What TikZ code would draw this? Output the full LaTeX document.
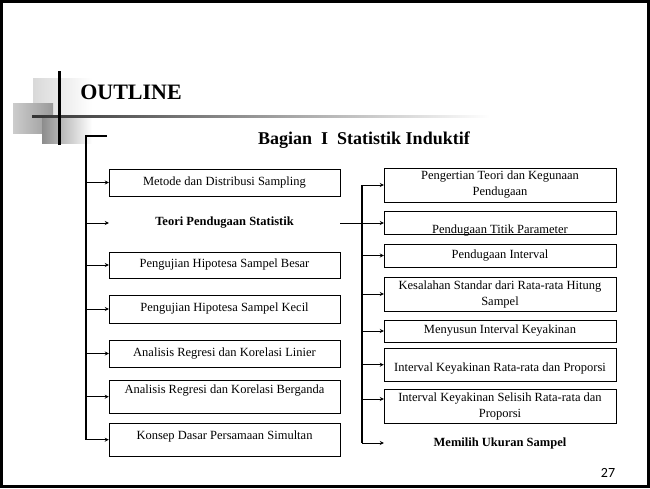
\documentclass[tikz,border=0pt]{standalone}
\usepackage{fontspec}
\setmainfont{Liberation Serif}
\newfontfamily\pagefont{Carlito}
\usetikzlibrary{arrows.meta}

\begin{document}
\begin{tikzpicture}[x=1pt,y=-1pt]
\tikzset{box/.style={draw,inner xsep=2pt,inner ysep=0pt,align=center,
           font=\fontsize{12.5}{16}\selectfont},
         lbox/.style={box,minimum width=231pt},
         rbox/.style={box,minimum width=232pt},
         head/.style={inner sep=0pt,font=\fontsize{12.5}{16}\selectfont\bfseries},
         trunk/.style={line width=1.6pt},
         feed/.style={line width=0.8pt,-{Stealth[length=4pt,width=4pt]}}}
\useasboundingbox (0,0) rectangle (650,488);
\draw[line width=3pt] (1.5,1.5) rectangle (648.5,486.5);
\shade[left color=black!15,right color=white] (33,78) rectangle (92,118);
\shade[left color=black!20,right color=black!40] (13,103) rectangle (53,133);
\shade[left color=black!45,right color=white] (42,117) rectangle (92,143);
\shade[left color=black!80,right color=white] (32,115) rectangle (490,117.5);
\draw[line width=3pt] (59,71) -- (59,145);
\node[font=\fontsize{22}{26}\selectfont\bfseries] (outline) at (131,92) {OUTLINE};
\node[font=\fontsize{18}{22}\selectfont\bfseries] (bagian) at (364,140) {Bagian\ \ I\ \ Statistik Induktif};

\node[lbox,minimum height=27pt] (metode) at (224.5,182.5) {Metode dan Distribusi Sampling};
\node[head,minimum width=231pt] (teori) at (224.5,223) {Teori Pendugaan Statistik};
\node[lbox,minimum height=26pt] (besar) at (224.5,265) {Pengujian Hipotesa Sampel Besar};
\node[lbox,minimum height=28pt] (kecil) at (224.5,309) {Pengujian Hipotesa Sampel Kecil};
\node[lbox,minimum height=27pt] (linier) at (224.5,353.5) {Analisis Regresi dan Korelasi Linier};
\node[lbox,anchor=north,text height=13pt,text depth=20pt] (berganda) at (224.5,380) {Analisis Regresi dan Korelasi Berganda};
\node[lbox,anchor=north,text height=16pt,text depth=17pt] (konsep) at (224.5,423) {Konsep Dasar Persamaan Simultan};

\node[rbox,minimum height=34pt] (pengertian) at (500,185) {Pengertian Teori dan Kegunaan\\Pendugaan};
\node[rbox,anchor=north,text height=22pt,text depth=1pt] (titik) at (500,211) {Pendugaan Titik Parameter};
\node[rbox,minimum height=23pt] (interval) at (500,255.5) {Pendugaan Interval};
\node[rbox,minimum height=34pt] (kesalahan) at (500,294) {Kesalahan Standar dari Rata-rata Hitung\\Sampel};
\node[rbox,minimum height=22pt] (menyusun) at (500,331) {Menyusun Interval Keyakinan};
\node[rbox,anchor=north,text height=23pt,text depth=10pt] (ratarata) at (500,348) {Interval Keyakinan Rata-rata dan Proporsi};
\node[rbox,minimum height=34pt] (selisih) at (500,406) {Interval Keyakinan Selisih Rata-rata dan\\Proporsi};
\node[head,minimum width=232pt] (memilih) at (500,443) {Memilih Ukuran Sampel};
\node[font=\pagefont\fontsize{14}{16}\selectfont] (page) at (608,473) {27};

\coordinate (lknee) at (86,136);
\coordinate (lcap) at (107,136);
\draw[trunk] (lcap) -- (lknee) -- (lknee |- konsep.west);
\foreach \n in {metode,teori,besar,kecil,linier,berganda,konsep}
  \draw[feed] (lknee |- \n.west) -- (\n.west);

\coordinate (rtrunk) at (362,185);
\coordinate (selisihin) at ([yshift=7pt]selisih.west);
\draw[trunk] (rtrunk |- pengertian.west) -- (rtrunk |- memilih.west);
\foreach \n in {pengertian,interval,kesalahan,menyusun,ratarata,memilih}
  \draw[feed] (rtrunk |- \n.west) -- (\n.west);
\draw[feed] (rtrunk |- selisihin) -- (selisihin);
\draw[feed] (teori.east) -- (teori.east -| titik.west);
\end{tikzpicture}
\end{document}
